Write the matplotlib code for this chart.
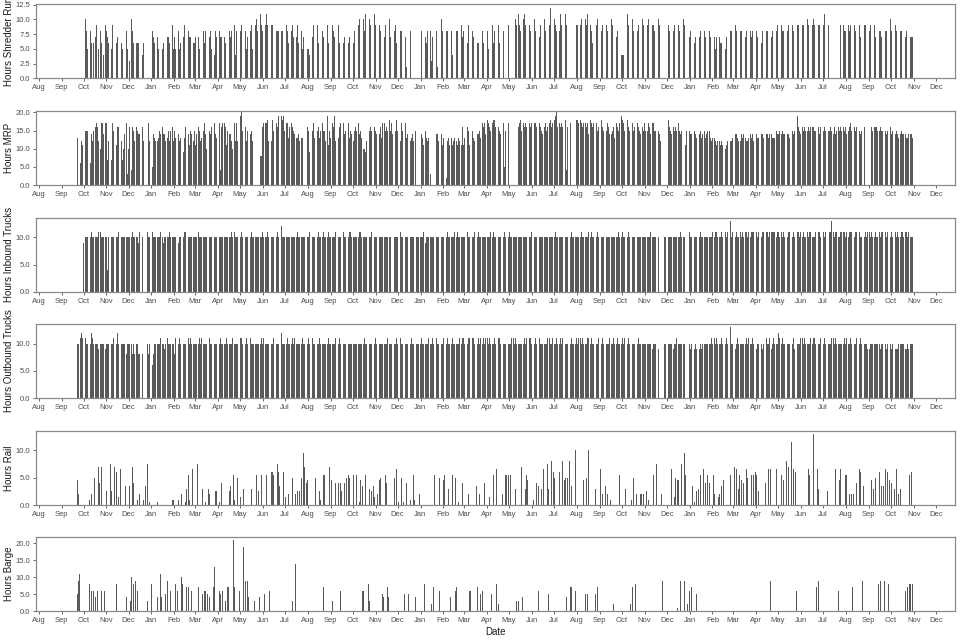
import numpy as np
import pandas as pd
import matplotlib
matplotlib.use("Agg")
import matplotlib.pyplot as plt
import matplotlib.dates as mdates
from matplotlib.ticker import FormatStrFormatter

plt.rcParams['font.family'] = ['Liberation Sans', 'DejaVu Sans']

# ---------------- data ----------------
START = "2016-09-19"          # first day of the daily series (a Monday)
XLIM = ("2016-07-28", "2019-12-27")
# number of weeks in each calendar block (Sep16, Oct16, ... Nov19)
WEEKS_PER_BLOCK = [1, 5, 4, 4, 5, 4, 4, 5, 4, 4, 5, 4, 4, 5, 4, 5, 4, 4, 4, 5,
                   4, 4, 5, 4, 5, 4, 4, 5, 4, 4, 5, 4, 4, 5, 4, 4, 5, 4, 1]

# daily hours, one char per day (base-36 digit), one 7-char group per week
shredder_blocks = [
    "0000000",
    "0000000 9a85900 8960600 7930500 8670400",
    "9870600 7590000 8670500 6850000",
    "8a50300 a896000 6666000 6460000",
    "0000000 8576000 7850000 5680000 7760000",
    "9570500 6856000 7390000 8477000",
    "6677000 7580000 8688000 6785000",
    "8487000 8577000 7640000 8768000 9480000",
    "a897000 b857a00 8a95000 9a58000",
    "b9a8000 9b98000 a998000 9888000",
    "8980000 9786000 8987000 7968000 8570000",
    "8554000 7690000 9860000 8770000",
    "9690000 9870000 6960000 7670000",
    "6670000 6820000 9a80000 a8b9000 8a90000",
    "ab90000 9a80000 7980000 a760000",
    "8960000 6880000 8720000 8600000 0000000",
    "0880000 7680000 8370000 6820000",
    "a880000 8780000 8470000 8870000",
    "9780000 8690000 8870000 6860000",
    "8680000 8580000 9680000 8960000 8800000",
    "9800000 000a900 b9a8000 ab90000",
    "a980000 9a80000 7990000 a880000",
    "9c80000 a980000 8b90000 ab90000 0000000",
    "0a99000 9a80000 a9b0000 9860000",
    "b9a0000 8b90000 9780000 a970000 7870000",
    "4444000 8b90000 9a80000 8890000",
    "a980000 9a90000 9980000 8a90000",
    "8000000 9a80000 8970000 9880000 a900000",
    "0780000 8670000 7580000 8670000",
    "8760000 7570000 7660000 6570000",
    "8a80000 9780000 8880000 7860000 8780000",
    "a870000 8680000 8580000 7880000",
    "8970000 9880000 8890000 7980000",
    "9890000 9980000 a980000 9a90000 8990000",
    "a9b0000 9a00000 0000000 00a9000",
    "9880000 9890000 8980000 9870000",
    "9890000 8980000 9780000 8870000 a880000",
    "a980000 9a80000 8870000 7870000",
    "7770000",
]

mrp_blocks = [
    "000cd00",
    "j6cbj00 bfffe00 6fecf00 ghhgc00 ahhhe00",
    "hh7hc00 a7h6f00 hbggc00 cg7ae00",
    "hf3ag00 4ggfc00 gfefe00 6gc0000",
    "00hce00 5fedc00 cedfe00 gefec00 dfcgf00",
    "gcfed00 fecdf00 9cdgc00 ecbfe00",
    "cfebe00 gfhcd00 fheca00 bfegc00",
    "fhedc00 hb4gh00 hgcbf00 eehca00 hchfc00",
    "kjkcf00 hgcfh00 eafc000 0000000",
    "88fgh00 hhihc00 hcihf00 ihgjd00",
    "jhijf00 hihdg00 hgcfe00 ddefc00 dd00000",
    "0gf9e00 fehdg00 fcgdf00 hfefc00",
    "jbhfd00 hgjfc00 edghe00 fhefd00",
    "hgdfe00 cfhgf00 heafd00 aa9ac00 hfgfe00",
    "hgfed00 efgdh00 hfegf00 ifghe00",
    "0fijf00 jchgf00 chdef00 cfdec00 fc00000",
    "0ecdb00 fdced00 3000000 2eecd00",
    "eebdc00 2ecdb00 dbecd00 cbbdc00",
    "bgbed00 egfbc00 fbdce00 ehefd00",
    "hgdhe00 ihbgf00 hiifg00 ggfeh00 hh5fe00",
    "hg00000 0000000 ghhif00 hghfg00",
    "jhgfh00 fhhgf00 higfe00 ghhfg00",
    "hijgh00 ijkhg00 hghfg00 ii4gf00 hi00000",
    "00iihg0 ihigh00 hghfe00 ihgfh00",
    "hhfgh00 ihgfe00 fghge00 effgd00 hgifh00",
    "jihgf00 higfh00 ihfge00 hhgfe00",
    "gfehf00 fh9ge00 hhfgf00 gfedc00",
    "0000000 ihgfe00 gfegf00 hfgef00 00bdf00",
    "gfede00 ffedf00 eefde00 fedef00",
    "fdecd00 dcbdc00 cbcdb00 babcb00",
    "cdcdc00 ededc00 cedde00 dcdcd00 ededc00",
    "eedde00 deede00 efede00 ededd00",
    "fedef00 efefe00 deede00 ffefe00",
    "jfgfe00 gfegf00 fgefg00 ggfef00 fgefg00",
    "gfgfe00 fgfgf00 efgef00 gfegf00",
    "gfgfe00 fghgf00 ggfgf00 fgefe00",
    "gf00000 00ggf00 ggfgf00 fgfef00 efefe00",
    "gfefe00 edfed00 efeee00 edede00",
    "eed0000",
]

inbound_blocks = [
    "0000000",
    "0000590 9aaaa00 aabaa00 aaaab00 baaaa00",
    "aa4aa00 aaaaa00 aaaba00 aaaaa00",
    "aaaaa00 abaaa00 aa9ab00 9a00000",
    "0baaa00 baaaa00 aaaab00 a9aaa00 aabaa00",
    "aaaaa00 a9aaa00 aabba00 aaaaa00",
    "aaaaa00 baaaa00 aaaaa00 aaaaa00",
    "aaaaa00 aaaaa00 aabaa00 aaaba00 baaaa00",
    "aabaa00 aaaaa00 abbaa00 aaaaa00",
    "aaaba00 aabaa00 aaaaa00 aabaa00",
    "caaaa00 aaaaa00 aaaaa00 abaaa00 aaaaa00",
    "aaaba00 aaaaa00 aabaa00 abaaa00",
    "abbaa00 aaaab00 aaaaa00 abaaa00",
    "aabba00 aaaaa00 abbba00 aaaaa00 aaaba00",
    "aaaaa00 aaaaa00 aabaa00 aaa0000",
    "aaaaa00 abaaa00 aaaaa00 aaaaa00 00aaa00",
    "aaaab00 9aaaa00 aaaaa00 aaaab00",
    "abaaa00 aabaa00 aaaab00 abaaa00",
    "aaaaa00 abaaa00 aaaba00 aabaa00",
    "aabaa00 aaaab00 abaaa00 aaaaa00 aabaa00",
    "abbaa00 aaaaa00 aabaa00 aaaaa00",
    "aaaab00 aaaaa00 abaaa00 aaaaa00",
    "aaaaa00 abaaa00 aaaba00 aaaaa00 aabaa00",
    "aaaaa00 abaaa00 aaaab00 abaaa00",
    "aabaa00 aaaaa00 abaaa00 aaaaa00 aaaba00",
    "abaaa00 aabaa00 aaaaa00 abaaa00",
    "aaaaa00 aaaab00 aaaaa00 aa00000",
    "00aaa00 abaaa00 aaaaa00 aaaba00 aa00000",
    "0baaa00 aaaab00 aabaa00 abaaa00",
    "aabab00 abbaa00 aabba00 bbaba00",
    "dbabb00 abbaa00 babba00 bbcab00 abbab00",
    "bbabb00 dabba00 babab00 bbabb00",
    "abbba00 babba00 aabbb00 babab00",
    "bbbab00 abbaa00 babbb00 aaaab00 bbbaa00",
    "bbabb00 0abbd00 bbabb00 aabbb00",
    "bbabb00 abbab00 babba00 bbaab00",
    "abbab00 babba00 abbaa00 babab00 bbabb00",
    "abbab00 bbaba00 abcba00 bbaab00",
    "aaaa000",
]

outbound_blocks = [
    "000aaa0",
    "abcbc00 bbaa900 aacba00 aaaa9d0 aabaa00",
    "9aaaa00 baaab00 aaca900 aaaaa00",
    "8aaaa00 a8aa800 aa8a800 a800000",
    "0a8a500 6a8aa00 abaab00 aaa9a00 baaaa00",
    "aa8ab00 aabaa00 abaaa00 baaba00",
    "aabaa00 abaab00 aaaba00 abaaa00",
    "baaab00 aabaa00 aaaba00 aabab00 aaaaa00",
    "abbaa00 aabab00 baaaa00 aabaa00",
    "abaab00 aaaba00 baabb00 aaaab00",
    "cbaaa00 aabaa00 abaab00 aaaba00 abaaa00",
    "aabaa00 baaaa00 aaaba00 aabaa00",
    "abaaa00 aaaab00 aabaa00 aaaaa00",
    "abaaa00 aaaaa00 aabaa00 abaaa00 aaaab00",
    "aabaa00 abaaa00 aaaab00 aaba000",
    "aabaa00 abaaa00 aaaaa00 aabaa00 00aaa00",
    "abaaa00 aaaab00 aabaa00 abaaa00",
    "aaaba00 aabaa00 abaaa00 aaaab00",
    "abbaa00 aabba00 babaa00 aabab00",
    "abaab00 baaba00 aabaa00 abbaa00 aaaab00",
    "abaab00 baaba00 aabaa00 abaab00",
    "abbca00 aabab00 baaaa00 abaab00",
    "baaab00 aabaa00 abaab00 baaab00 aabaa00",
    "abbab00 baaba00 aabab00 abaaa00",
    "baaba00 aabaa00 abaab00 aaaba00 abaaa00",
    "abaab00 aabaa00 baaab00 aabaa00",
    "aaaaa00 aabaa00 9aaaa00 a900000",
    "00aaa00 abaaa00 9aaab00 aa9aa00 aa00000",
    "0a9aa00 99a9a00 9aa9a00 a9aaa00",
    "aa9ba00 bab9a00 aabaa00 9abaa00",
    "dbaab00 9aaba00 aabaa00 abaab00 aabaa00",
    "a9aab00 aa9aa00 baaab00 9aaba00",
    "aabcb00 abaaa00 baaab00 aab9a00",
    "abaab00 baaba00 aabab00 abbaa00 baaab00",
    "aabaa00 abaab00 baaba00 aabaa00",
    "abaab00 aabba00 baaba00 aabab00",
    "aaaa900 9aaaa00 aaaaa00 a9aaa00 aa9aa00",
    "a99aa00 9a99a00 aa9aa00 99aa900",
    "aaaa000",
]

# sparse series: (day index since START, hours)
rail_events = [
    (4, 4.5), (5, 2), (11, 4), (14, 1.5), (18, 5), (20, 1), (22, 3.5), (23, 2), (26, 1), (27, 5),
    (30, 7), (32, 7), (34, 4), (36, 7), (37, 2.5), (41, 4), (43, 2.5), (48, 7.5), (49, 5), (50, 2.5),
    (54, 7), (57, 6), (59, 1.5), (62, 6.5), (68, 3), (69, 3.5), (71, 2), (74, 3.5), (78, 7), (80, 4),
    (83, 1), (85, 1), (88, 2), (91, 3.5), (93, 1), (96, 3.5), (99, 7.5), (101, 0.5), (106, 6.5), (110, 6),
    (112, 0.5), (133, 1), (134, 1), (141, 1), (145, 2), (150, 0.5), (152, 3), (154, 5.5), (156, 1),
    (160, 6.5), (163, 6), (166, 7.5), (173, 3), (177, 0.5), (181, 3), (183, 2), (191, 2.5), (192, 2.5),
    (196, 0.5), (199, 4), (201, 5), (205, 1.5), (210, 2.5), (211, 3.5), (215, 5.5), (217, 1), (221, 5),
    (224, 1.5), (225, 1.5), (229, 3), (240, 3), (246, 5.5), (249, 2.5), (253, 5.5), (258, 5.5),
    (260, 5.5), (262, 6), (267, 6), (268, 6), (270, 5.5), (275, 7.5), (276, 6), (278, 3.5), (281, 7),
    (283, 6), (286, 1.5), (290, 2), (295, 5), (296, 3.5), (299, 2), (302, 2.5), (305, 2.5), (308, 5),
    (310, 9.5), (312, 7), (314, 4), (316, 4.5), (319, 0.5), (323, 2), (326, 7), (327, 5), (332, 2.5),
    (333, 1), (337, 5.5), (339, 5.5), (342, 5), (346, 7), (348, 4.5), (353, 5), (354, 4), (358, 4),
    (360, 4), (362, 2.5), (364, 2), (366, 4), (369, 5), (371, 5.5), (373, 5), (376, 2.5), (378, 5.5),
    (380, 1), (382, 5.5), (386, 0.5), (388, 4.5), (390, 3.5), (394, 5.5), (400, 3), (402, 2.5),
    (405, 3.5), (407, 1.5), (411, 2), (413, 4.5), (415, 5), (418, 3), (421, 5.5), (423, 4), (425, 3.5),
    (434, 5), (436, 6.5), (439, 0.5), (443, 5), (446, 0.5), (450, 4), (452, 1), (455, 1), (459, 5.5),
    (461, 1), (468, 2), (479, 6), (482, 1), (488, 5.5), (495, 5), (500, 4.5), (502, 5.5), (507, 3),
    (512, 5.5), (516, 5), (521, 0.5), (526, 4), (528, 6.5), (534, 2), (536, 4), (540, 5.5), (545, 3.5),
    (549, 2), (551, 5), (556, 4), (563, 1.5), (566, 3.5), (568, 5.5), (570, 7), (572, 6.5), (574, 2),
    (578, 1.5), (580, 2), (584, 5.5), (586, 5.5), (588, 5.5), (591, 5.5), (593, 5.5), (598, 3),
    (600, 5.5), (606, 7), (608, 3.5), (611, 3), (613, 5.5), (614, 4.5), (616, 4.5), (622, 1), (623, 1),
    (626, 4), (629, 3.5), (631, 4), (633, 3), (636, 6.5), (638, 5.5), (641, 7.5), (643, 3), (647, 8),
    (649, 6), (651, 5), (654, 5), (658, 6), (662, 8), (664, 4.5), (666, 5), (668, 5), (671, 8), (673, 4),
    (674, 3.5), (679, 10), (684, 2), (690, 4.5), (692, 5.5), (694, 5), (697, 10), (703, 5), (706, 3),
    (711, 7.5), (713, 6.5), (716, 2), (718, 2), (720, 3.5), (723, 2), (727, 1), (734, 6.5), (737, 5.5),
    (739, 5.5), (745, 5), (747, 3), (749, 2), (753, 4.5), (755, 1), (758, 5), (760, 4), (762, 2),
    (767, 2), (769, 2), (771, 2), (776, 2.5), (778, 1), (783, 5.5), (785, 5.5), (789, 7.5), (791, 2.5),
    (794, 5.5), (796, 2), (798, 5.5), (809, 6.5), (813, 1.5), (815, 5), (818, 4.5), (819, 4.5),
    (823, 7.5), (825, 7.5), (827, 9.5), (828, 5.5), (838, 3.5), (841, 0.5), (843, 2.5), (846, 3),
    (849, 5.5), (852, 6.5), (853, 6.5), (856, 4), (858, 5.5), (861, 4), (863, 2), (866, 5.5), (868, 2),
    (871, 2), (873, 1.5), (875, 2), (877, 3.5), (880, 4.5), (882, 4), (886, 3), (889, 5.5), (893, 4.5),
    (895, 7), (898, 6.5), (900, 3), (902, 5.5), (904, 4.5), (907, 4), (909, 5.5), (911, 6.5), (913, 5),
    (916, 4.5), (918, 5.5), (921, 5.5), (923, 6), (925, 5.5), (927, 2.5), (931, 7.5), (937, 4),
    (941, 6.5), (944, 6.5), (947, 5.5), (950, 3), (952, 6.5), (954, 4.5), (959, 5.5), (961, 4.5),
    (965, 8), (968, 7), (970, 7.5), (972, 11.5), (975, 6.5), (978, 6), (989, 4.5), (992, 5.5),
    (995, 6.5), (997, 5.5), (1002, 13), (1004, 5), (1007, 6.5), (1009, 3), (1015, 5), (1019, 5.5),
    (1021, 2.5), (1030, 8.5), (1032, 6.5), (1037, 4.5), (1039, 6.5), (1045, 5.5), (1046, 1.5),
    (1047, 5.5), (1049, 1.5), (1051, 2), (1054, 2), (1056, 2), (1060, 4), (1064, 6.5), (1066, 6),
    (1070, 3.5), (1081, 4.5), (1083, 3), (1086, 5), (1092, 6), (1094, 3.5), (1097, 3.5), (1100, 6.5),
    (1102, 6), (1105, 4.5), (1108, 4), (1110, 3), (1112, 3), (1115, 6.5), (1117, 2), (1120, 3),
    (1132, 5.5), (1135, 6),
]

barge_events = [
    (4, 5), (5, 9), (6, 11), (20, 8), (23, 6), (25, 6), (28, 4), (30, 11), (31, 6), (33, 6), (36, 6),
    (40, 6), (56, 6), (57, 8), (70, 4), (76, 3), (77, 10), (80, 8), (82, 9), (83, 8), (85, 6), (91, 4),
    (99, 3), (102, 7), (104, 8), (112, 4), (116, 11), (118, 4), (123, 5), (126, 9), (130, 6), (132, 6),
    (137, 8), (139, 6), (144, 4), (145, 10), (146, 8), (152, 7), (154, 7), (158, 6), (159, 6), (163, 14),
    (167, 7), (168, 7), (173, 5), (176, 6), (177, 6), (180, 5), (183, 4), (188, 7), (190, 13), (193, 7),
    (196, 6), (198, 5), (200, 6), (204, 3), (207, 7), (209, 7), (212, 5), (215, 21), (217, 7), (220, 5),
    (223, 6), (224, 5), (229, 19), (231, 11), (232, 9), (234, 9), (236, 4), (244, 3), (251, 4), (257, 5),
    (264, 6), (295, 3), (299, 14), (315, 8), (319, 10), (334, 7), (337, 7), (350, 3), (360, 6), (390, 6),
    (392, 6), (395, 6), (398, 8), (400, 3), (403, 8), (410, 6), (417, 5), (419, 4), (424, 7), (426, 4),
    (433, 7), (441, 2), (447, 5), (453, 5), (462, 4), (474, 8), (484, 2), (487, 7), (495, 6), (510, 4),
    (513, 5), (516, 6), (518, 7), (532, 6), (535, 6), (537, 6), (540, 6), (546, 7), (550, 5), (553, 6),
    (555, 6), (565, 5), (572, 8), (575, 2), (578, 8), (581, 6), (599, 3), (602, 3), (604, 4), (607, 4),
    (608, 7), (616, 7), (629, 6), (631, 6), (643, 5), (665, 4), (667, 4), (669, 4), (672, 7), (674, 7),
    (677, 8), (679, 6), (693, 5), (695, 5), (706, 5), (709, 7), (726, 5), (731, 2), (737, 6), (754, 2),
    (757, 7), (761, 8), (787, 9), (797, 9), (806, 5), (818, 1), (822, 9), (827, 9), (831, 2), (834, 6),
    (837, 7), (840, 8), (843, 5), (944, 9), (950, 5), (979, 6), (981, 6), (1006, 7), (1009, 9),
    (1011, 1), (1036, 6), (1038, 6), (1042, 9), (1046, 7), (1055, 7), (1069, 9), (1072, 5), (1080, 7),
    (1090, 8), (1093, 9), (1098, 9), (1104, 8), (1107, 7), (1127, 6), (1130, 7), (1132, 8), (1134, 8),
    (1136, 8),
]

panel_labels = ["Hours Shredder Run", "Hours MRP", "Hours Inbound Trucks",
                "Hours Outbound Trucks", "Hours Rail", "Hours Barge"]
panel_ymax = [12.6, 20.4, 13.5, 13.6, 13.5, 21.9]
panel_yticks = [[0, 2.5, 5, 7.5, 10, 12.5], [0, 5, 10, 15, 20], [0, 5, 10],
                [0, 5, 10], [0, 5, 10], [0, 5, 10, 15, 20]]

# ---------------- build daily arrays ----------------
N_DAYS = sum(WEEKS_PER_BLOCK) * 7


def decode(blocks):
    out = []
    for blk, n in zip(blocks, WEEKS_PER_BLOCK):
        weeks = (blk.split() + ["0000000"] * n)[:n]
        for w in weeks:
            w = (w + "0000000")[:7]
            out.extend(int(c, 36) for c in w)
    arr = np.zeros(N_DAYS)
    arr[:min(len(out), N_DAYS)] = out[:N_DAYS]
    return arr


def from_events(events):
    arr = np.zeros(N_DAYS)
    for d, h in events:
        if 0 <= d < N_DAYS:
            arr[d] = max(arr[d], h)
    return arr


days = pd.date_range(START, periods=N_DAYS, freq="D")
xnum = mdates.date2num(days.to_pydatetime())

series = [decode(shredder_blocks), decode(mrp_blocks), decode(inbound_blocks),
          decode(outbound_blocks), from_events(rail_events), from_events(barge_events)]

# ---------------- plot ----------------
fig = plt.figure(figsize=(9.6, 6.4), dpi=100)
fig.patch.set_facecolor("white")
L, W, H = 0.0372, 0.9576, 0.1158
bottoms = [0.8777, 0.7109, 0.5438, 0.3781, 0.2109, 0.0453]

x0 = mdates.date2num(pd.Timestamp(XLIM[0]).to_pydatetime())
x1 = mdates.date2num(pd.Timestamp(XLIM[1]).to_pydatetime())

for i, vals in enumerate(series):
    ax = fig.add_axes([L, bottoms[i], W, H])
    m = vals > 0
    ax.bar(xnum[m], vals[m], width=1.0, color="#5a5a5a", linewidth=0, align="center")
    ax.set_xlim(x0, x1)
    ax.set_ylim(0, panel_ymax[i])
    ax.set_yticks(panel_yticks[i])
    ax.yaxis.set_major_formatter(FormatStrFormatter("%.1f"))
    ax.xaxis.set_major_locator(mdates.MonthLocator())
    ax.xaxis.set_major_formatter(mdates.DateFormatter("%b"))
    ax.tick_params(axis="both", labelsize=5.5, colors="#4d4d4d", length=2.5,
                   width=0.6, pad=1.5)
    for s in ax.spines.values():
        s.set_color("#8a8a8a")
        s.set_linewidth(0.9)
    ax.set_ylabel(panel_labels[i], fontsize=7.0, color="#1a1a1a")
    ax.yaxis.set_label_coords(-0.0236, 0.5)
    if i == len(series) - 1:
        ax.set_xlabel("Date", fontsize=7.0, color="#1a1a1a", labelpad=2.5)

fig.savefig("out.png", dpi=100, facecolor="white")
